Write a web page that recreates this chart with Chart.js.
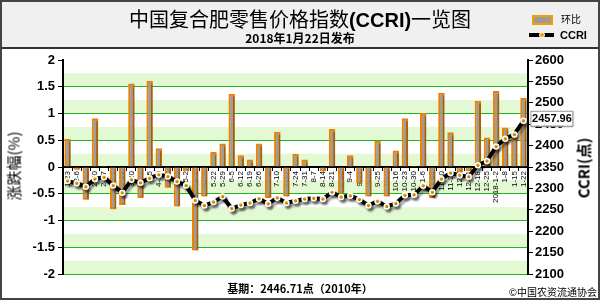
<!DOCTYPE html>
<html>
<head>
<meta charset="utf-8">
<script src="https://cdn.jsdelivr.net/npm/chart.js@4.4.1/dist/chart.umd.min.js"></script>
<style>
  html, body { margin: 0; padding: 0; background: #fff; }
  #wrap { position: relative; width: 600px; height: 300px; overflow: hidden; background: #fff;
          font-family: 'Noto Sans CJK SC', 'Liberation Sans', sans-serif; color: #000; }
  #head { position: absolute; left: 0; top: 0; width: 600px; height: 47px; background: #f0f0f0;
          border-bottom: 2px solid #333; }
  #chart { position: absolute; left: 0; top: 0; }
  .txt { position: absolute; white-space: nowrap; line-height: 1; }
  #frame { position: absolute; left: 0; top: 0; width: 596px; height: 296px; border: 2px solid #444; pointer-events: none; }
  .sw1 { position: absolute; left: 532px; top: 15px; width: 17px; height: 6px; background: #9a9a9a; border: 2px solid #f0a000; }
  .sw2 { position: absolute; left: 529px; top: 33px; width: 25px; height: 4px; background: #000; }
  .sw2 i { position: absolute; left: 10px; top: -1px; width: 4px; height: 4px; border-radius: 3px; background: #f0a000; border: 1px solid #fff; }
</style>
</head>
<body>
<div id="wrap">
  <div id="head"></div>
  <canvas id="chart" width="600" height="300"></canvas>
  <div class="txt" style="left:300px;top:19px;transform:translate(-50%,-50%);font-size:20px;">中国复合肥零售价格指数<b style="font-family:'Liberation Sans',sans-serif">(CCRI)</b>一览图</div>
  <div class="txt" style="left:300px;top:38px;transform:translate(-50%,-50%);font-size:12px;font-weight:bold;">2018年1月22日发布</div>
  <div class="sw1"></div>
  <div class="txt" style="left:561px;top:19px;transform:translateY(-50%);font-size:10px;">环比</div>
  <div class="sw2"><i></i></div>
  <div class="txt" style="left:560px;top:35px;transform:translateY(-50%);font-size:11px;font-weight:bold;font-family:'Liberation Sans',sans-serif;">CCRI</div>
  <div class="txt" style="left:13px;top:166px;transform:translate(-50%,-50%) rotate(-90deg);font-size:15px;">涨跌幅(%)</div>
  <div class="txt" style="left:583px;top:168px;transform:translate(-50%,-50%) rotate(-90deg);font-size:15px;font-weight:bold;">CCRI(点)</div>
  <div class="txt" style="left:300px;top:288px;transform:translate(-50%,-50%);font-size:11px;font-weight:bold;">基期：2446.71点（2010年）</div>
  <div class="txt" style="right:3px;top:292px;transform:translateY(-50%);font-size:10px;">©中国农资流通协会</div>
  <div id="frame"></div>
</div>
<script>
// weekly release dates, 2017-01-23 .. 2018-01-22
var dates = ['1-23','2-6','2-13','2-20','2-27','3-6','3-13','3-20','3-27','4-5','4-10','4-17','4-24','5-2','5-8',
  '5-15','5-22','5-29','6-5','6-12','6-19','6-26','7-3','7-10','7-17','7-24','7-31','8-7','8-14','8-21','8-28',
  '9-4','9-11','9-18','9-25','10-9','10-16','10-23','10-30','11-6','11-13','11-20','11-27','12-4','12-11','12-18',
  '12-25','2018-1-2','1-8','1-15','1-22'];

// week-on-week change, %
var huanbi = [0.53, -0.05, -0.61, 0.91, 0.02, -0.79, -0.71, 1.56, -0.58, 1.61, 0.35, -0.39, -0.74, -0.08, -1.56,
  -0.55, 0.28, 0.44, 1.37, 0.22, 0.14, 0.44, -0.58, 0.66, -0.55, 0.25, 0.14, 0.0, -0.08, 0.71, -0.49,
  0.22, -0.30, -0.55, 0.49, -0.55, 0.31, 0.91, 0.02, 1.01, -0.58, 1.39, 0.65, -0.10, -0.08, 1.24,
  0.55, 1.42, 0.74, 0.55, 1.29];

// CCRI index, points
var ccri = [2317, 2312, 2304, 2322, 2326, 2307, 2290, 2320, 2313, 2324, 2332, 2328, 2316, 2307, 2272,
  2260, 2268, 2281, 2253, 2261, 2266, 2276, 2264, 2278, 2266, 2271, 2275, 2277, 2275, 2291, 2280,
  2283, 2274, 2260, 2270, 2258, 2265, 2284, 2285, 2306, 2291, 2322, 2336, 2331, 2327, 2354,
  2364, 2398, 2416, 2426, 2457.96];

var leftMin = -2, leftMax = 2, leftStep = 0.25;
var rightMin = 2100, rightMax = 2600, rightStep = 50;

var tickFont = { family: "'Liberation Sans', Arial, sans-serif", size: 13, weight: 'bold' };

function isMajor(v) {
  return Math.abs(v * 2 - Math.round(v * 2)) < 1e-9;
}

// alternating green / white bands behind the grid
var bands = {
  id: 'bands',
  beforeDraw: function(chart) {
    var ctx = chart.ctx, a = chart.chartArea, y = chart.scales.y;
    ctx.save();
    var k = 0;
    for (var v = leftMax; v > leftMin; v -= leftStep) {
      if (k % 2 == 1) {
        var t = y.getPixelForValue(v), b = y.getPixelForValue(v - leftStep);
        ctx.fillStyle = '#e3f9d3';
        ctx.fillRect(a.left, t, a.right - a.left, b - t);
      }
      k++;
    }
    ctx.restore();
  }
};

// drop shadows under the marks
var shadows = {
  id: 'shadows',
  beforeDatasetDraw: function(chart, args) {
    var ctx = chart.ctx;
    ctx.save();
    if (args.index == 0) {
      ctx.shadowColor = 'rgba(0,0,0,0.35)';
      ctx.shadowOffsetX = 2; ctx.shadowOffsetY = 3; ctx.shadowBlur = 2;
    } else {
      ctx.shadowColor = 'rgba(0,0,0,0.3)';
      ctx.shadowOffsetX = 2; ctx.shadowOffsetY = 1; ctx.shadowBlur = 1;
    }
  },
  afterDatasetDraw: function(chart) {
    chart.ctx.restore();
  }
};

// value box next to the latest point
var lastValue = {
  id: 'lastValue',
  afterDraw: function(chart) {
    var meta = chart.getDatasetMeta(0);
    var p = meta.data[meta.data.length - 1];
    var ctx = chart.ctx;
    var txt = ccri[ccri.length - 1].toFixed(2);
    var x = p.x + 7, y = p.y - 10, w = 42, h = 15;
    ctx.save();
    ctx.shadowColor = 'rgba(0,0,0,0.35)';
    ctx.shadowOffsetX = 1; ctx.shadowOffsetY = 1; ctx.shadowBlur = 2;
    ctx.fillStyle = '#fff';
    ctx.fillRect(x, y, w, h);
    ctx.shadowColor = 'transparent';
    ctx.strokeStyle = '#999';
    ctx.lineWidth = 1;
    ctx.strokeRect(x + 0.5, y + 0.5, w, h);
    ctx.fillStyle = '#000';
    ctx.font = "bold 11px 'Liberation Sans', Arial, sans-serif";
    ctx.textAlign = 'center';
    ctx.textBaseline = 'middle';
    ctx.fillText(txt, x + w / 2 + 0.5, y + h / 2 + 1);
    ctx.restore();
  }
};

new Chart(document.getElementById('chart'), {
  data: {
    labels: dates,
    datasets: [{
      type: 'line',
      label: 'CCRI',
      data: ccri,
      yAxisID: 'y2',
      borderColor: '#000',
      borderWidth: 4,
      pointRadius: 2.5,
      pointBackgroundColor: '#f0a000',
      pointBorderColor: '#fff',
      pointBorderWidth: 1.5,
      tension: 0,
      order: 0
    }, {
      type: 'bar',
      label: '环比',
      data: huanbi,
      yAxisID: 'y',
      backgroundColor: '#9c9c9c',
      borderColor: '#f08000',
      borderWidth: 2,
      barPercentage: 0.7,
      categoryPercentage: 1,
      order: 1
    }]
  },
  options: {
    responsive: false,
    animation: false,
    layout: { padding: { top: 60, bottom: 26, left: 0, right: 0 } },
    plugins: { legend: { display: false }, tooltip: { enabled: false } },
    scales: {
      x: {
        type: 'category',
        position: { y: 0 },
        offset: true,
        grid: { display: true, drawOnChartArea: false, drawTicks: true, tickLength: 3, color: '#000' },
        border: { display: true, color: '#000', width: 2 },
        ticks: { autoSkip: false, maxRotation: 90, minRotation: 90, padding: 1, color: '#000',
                 font: { family: "'Liberation Sans', Arial, sans-serif", size: 8 } }
      },
      y: {
        position: 'left',
        min: leftMin, max: leftMax,
        ticks: {
          stepSize: leftStep, color: '#000', font: tickFont, padding: 3,
          callback: function(v) { return isMajor(v) ? String(v) : ''; }
        },
        grid: {
          color: function(c) {
            var v = c.tick.value;
            if (v == 0 || v == leftMax) return 'rgba(0,0,0,0)';
            if (Math.abs(v) == 1.75) return '#8fd98f';
            return '#1fb81f';
          },
          lineWidth: function(c) { return Math.abs(c.tick.value) == 1.75 ? 2 : 1; },
          tickColor: function(c) { return isMajor(c.tick.value) ? '#000' : 'rgba(0,0,0,0)'; },
          tickLength: 5
        },
        border: { display: true, color: '#000', width: 2 },
        afterFit: function(s) { s.width = 63; }
      },
      y2: {
        position: 'right',
        min: rightMin, max: rightMax,
        ticks: { stepSize: rightStep, color: '#000', font: tickFont, padding: 2,
                 callback: function(v) { return String(v); } },
        grid: { drawOnChartArea: false, tickColor: '#000', tickLength: 5 },
        border: { display: true, color: '#000', width: 2 },
        afterFit: function(s) { s.width = 72; }
      }
    }
  },
  plugins: [bands, shadows, lastValue]
});
</script>
</body>
</html>
